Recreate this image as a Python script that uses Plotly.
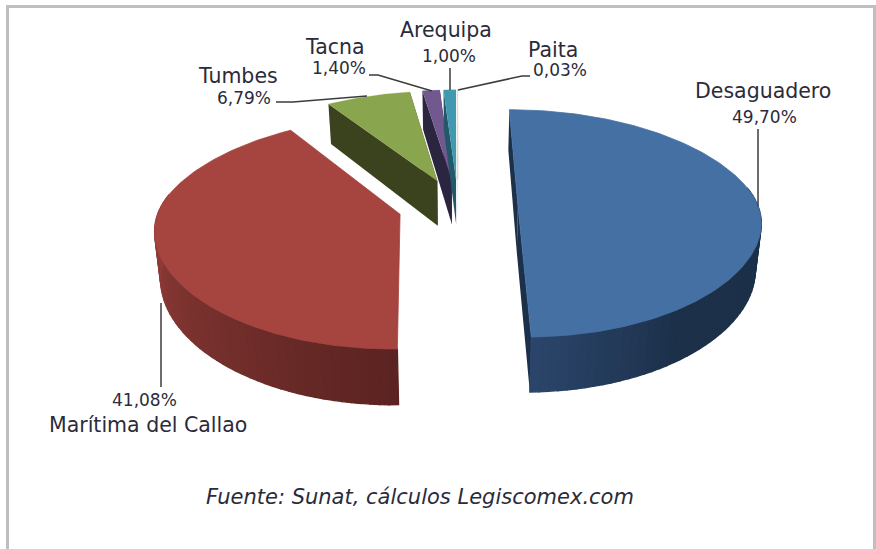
import math
import plotly.graph_objects as go

# ---- data ----
puertos = ["Desaguadero", "Marítima del Callao", "Tumbes", "Tacna", "Arequipa", "Paita"]
participacion = [49.70, 41.08, 6.79, 1.40, 1.00, 0.03]
colores_cara = ["#4570a4", "#a64440", "#89a54e", "#71588f", "#4198af", "#db843d"]
colores_pared = ["#1c3049", "#5a2321", "#3a431e", "#2c2540", "#22586a", "#7a4a20"]
fuente = "Fuente: Sunat, cálculos Legiscomex.com"

# ---- projection of the tilted, exploded pie onto the axes ----
X0, Y0 = 458, 206      # pie centre
RX, AY = 240, 111      # horizontal radius, vertical scale
PERSP_Y = 0.155        # perspective strength, vertical
PERSP_X_MEAN = 0.144   # perspective strength, horizontal
PERSP_X_SWING = 0.024  # stronger behind the centre, weaker in front of it
LOW_X = 0.98           # the lower rim is slightly narrower than the upper rim
EXPLODE = 0.25         # explosion as a share of the radius
H = 46.5               # pie thickness
ARC_STEP = 2.0         # degrees per facet


def project(u, v, low=False):
    px = PERSP_X_MEAN + PERSP_X_SWING * math.tanh(3 * v)
    sx = 1 / (1 + px * v)
    sy = 1 / (1 + PERSP_Y * v)
    return (X0 + RX * u * sx * (LOW_X if low else 1),
            Y0 - AY * v * sy + (H * sy if low else 0))


def mix(c1, c2, t):
    a = [int(c1[i:i + 2], 16) for i in (1, 3, 5)]
    b = [int(c2[i:i + 2], 16) for i in (1, 3, 5)]
    return "#" + "".join(f"{round(p + (q - p) * t):02x}" for p, q in zip(a, b))


def poly(fig, pts, color, lw=0.0):
    xs = [p[0] for p in pts] + [pts[0][0]]
    ys = [p[1] for p in pts] + [pts[0][1]]
    fig.add_trace(go.Scatter(x=xs, y=ys, mode="lines", fill="toself", fillcolor=color,
                             line=dict(color=color, width=lw), hoverinfo="skip",
                             showlegend=False))


fig = go.Figure()

# angles from the values
total = sum(participacion)
spans = []
acc = 0.0
for val in participacion:
    spans.append((acc / total * 360, (acc + val) / total * 360))
    acc += val

rim_light = {0: "#2b466b", 1: "#8e3b37"}

# paint small back slices first, then the two large ones
for i in [2, 3, 4, 5, 1, 0]:
    a, b = spans[i]
    mid = math.radians((a + b) / 2)
    ou, ov = EXPLODE * math.sin(mid), EXPLODE * math.cos(mid)

    def rim(deg):
        t = math.radians(deg)
        return ou + math.sin(t), ov + math.cos(t)

    # radial walls (the red slice shows none)
    if i != 1:
        for edge in (a, b):
            ru, rv = rim(edge)
            poly(fig, [project(ou, ov), project(ru, rv), project(ru, rv, True), project(ou, ov, True)],
                 colores_pared[i])

    # outer wall as shaded facets; only the part facing the viewer
    n = max(1, int((b - a) / ARC_STEP))
    for k in range(n):
        d0 = a + (b - a) * k / n
        d1 = a + (b - a) * (k + 1) / n
        dm = (d0 + d1) / 2
        if math.cos(math.radians(dm)) > 0.16:
            continue
        u0, v0 = rim(d0)
        u1, v1 = rim(d1)
        if i == 0:
            col = mix(colores_pared[0], rim_light[0], max(0, (dm - 145) / 34))
        elif i == 1:
            col = mix(colores_pared[1], rim_light[1], min(1, max(0, (dm - 179) / 85)))
        else:
            col = colores_pared[i]
        poly(fig, [project(u0, v0), project(u1, v1), project(u1, v1, True), project(u0, v0, True)], col, 1.3)

    # top face
    top = [project(ou, ov)]
    for k in range(n * 2 + 1):
        top.append(project(*rim(a + (b - a) * k / (n * 2))))
    poly(fig, top, colores_cara[i], 0.8 if i < 2 else 0.2)

# ---- labels ----
pct = [f"{v:.2f}%".replace(".", ",") for v in participacion]
name_pos = [(763, 91), (148, 425), (237.5, 76), (335, 47), (446, 30), (553, 50)]
pct_pos = [(764, 117), (144, 400), (244, 98), (339, 68), (449, 56), (559.5, 70)]
TXT = "#2b2b3a"
for nm, p, np_, pp in zip(puertos, pct, name_pos, pct_pos):
    fig.add_annotation(x=np_[0], y=np_[1], text=nm, showarrow=False,
                       font=dict(family="DejaVu Sans", size=20.5, color=TXT))
    fig.add_annotation(x=pp[0], y=pp[1], text=p, showarrow=False,
                       font=dict(family="DejaVu Sans", size=17, color=TXT))
fig.add_annotation(x=420, y=497, text=f"<i>{fuente}</i>", showarrow=False,
                   font=dict(family="DejaVu Sans", size=21, color=TXT))

# ---- leader lines ----
leaders = [
    [(758, 129), (758, 206)],
    [(161, 303), (161, 387)],
    [(276, 102), (293, 102), (367, 96)],
    [(369, 75), (378, 75), (432, 91)],
    [(450, 68), (450, 90)],
    [(530, 76), (522, 76), (458, 90)],
]
for ln in leaders:
    fig.add_trace(go.Scatter(x=[p[0] for p in ln], y=[p[1] for p in ln], mode="lines",
                             line=dict(color="#3c3c3c", width=1.5), hoverinfo="skip",
                             showlegend=False))

# ---- frame ----
frame = "#bfbfbf"
fig.add_shape(type="rect", x0=6, x1=9, y0=5, y1=549, fillcolor=frame, line_width=0)
fig.add_shape(type="rect", x0=6, x1=876, y0=5, y1=8, fillcolor=frame, line_width=0)
fig.add_shape(type="rect", x0=873, x1=876, y0=5, y1=549, fillcolor=frame, line_width=0)

fig.update_layout(width=876, height=549, margin=dict(l=0, r=0, t=0, b=0),
                  paper_bgcolor="white", plot_bgcolor="white", showlegend=False)
fig.update_xaxes(range=[0, 876], visible=False, fixedrange=True)
fig.update_yaxes(range=[549, 0], visible=False, fixedrange=True)
fig.write_html("out.html", config={"displayModeBar": False},
               post_script="document.body.style.margin='0';document.documentElement.style.overflow='hidden';")
